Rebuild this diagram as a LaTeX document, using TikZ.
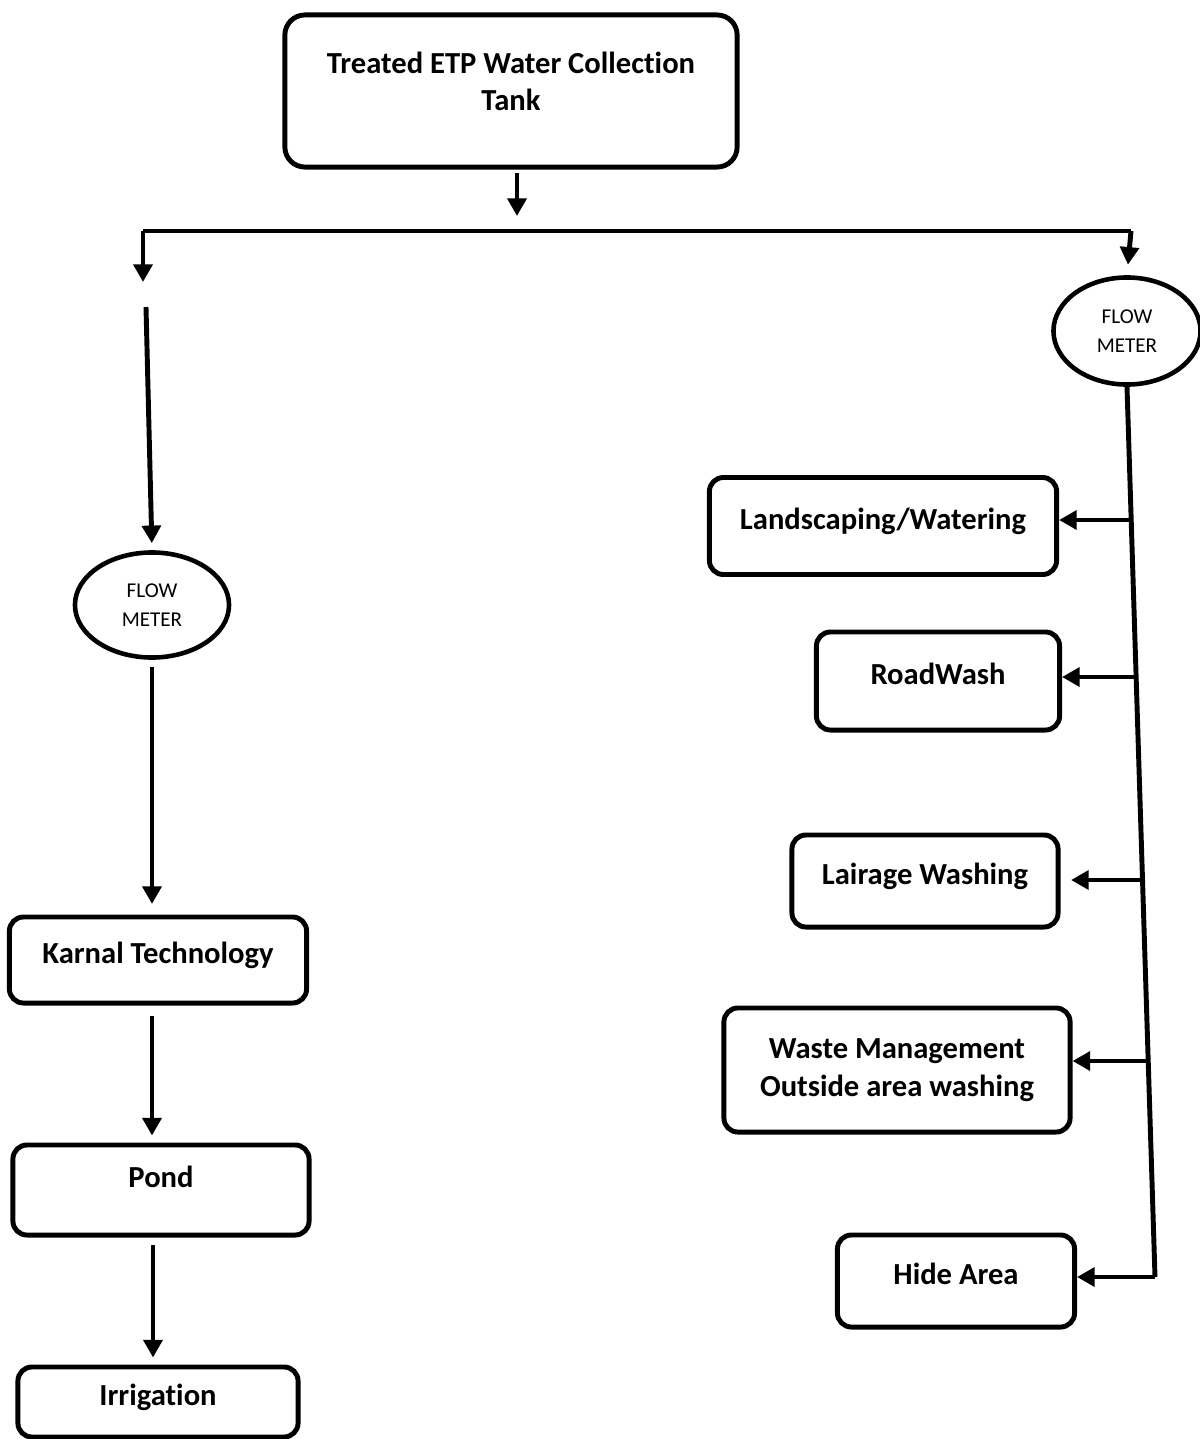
\documentclass[tikz,border=0pt]{standalone}
\usepackage{fontspec}
\setmainfont{Carlito}[Ligatures=NoCommon]
\usetikzlibrary{shapes.geometric,arrows.meta}

\begin{document}
\begin{tikzpicture}[x=0.01cm,y=-0.01cm,
  box/.style={rectangle,draw,line width=1.4pt,rounded corners=0.14cm,align=center,
    font=\bfseries\fontsize{8.7}{11}\selectfont},
  oneline/.style={text height=0.23cm,text depth=0.17cm},
  meter/.style={ellipse,draw,line width=1.3pt,inner sep=0pt,align=center,
    font=\fontsize{6}{8.3}\selectfont},
  flow/.style={line width=1.4pt,-{Triangle[length=5pt,width=5.3pt]},shorten >=2pt,shorten <=2pt},
  pipe/.style={line width=1.4pt}]
\useasboundingbox (0,0) rectangle (1200,1439);

% Tank
\node[box,rounded corners=0.2cm,minimum width=4.52cm,minimum height=1.52cm,
  font=\bfseries\fontsize{8.7}{10.5}\selectfont,text height=0.6cm,text depth=0.22cm]
  (tank) at (511,91) {Treated ETP Water Collection\\Tank};

% Flow meters
\node[meter,minimum width=1.54cm,minimum height=1.05cm] (fmL) at (152,605) {FLOW\\METER};
\node[meter,minimum width=1.47cm,minimum height=1.07cm] (fmR) at (1127,331) {FLOW\\METER};

% Left column
\node[box,oneline,minimum width=2.97cm,minimum height=0.86cm] (karnal) at (158,960) {Karnal Technology};
\node[box,oneline,text height=0.2cm,text depth=0.26cm,minimum width=2.96cm,minimum height=0.90cm] (pond) at (161,1190) {Pond};
\node[box,oneline,minimum width=2.80cm,minimum height=0.70cm] (irrig) at (158,1402) {Irrigation};

% Right column
\node[box,oneline,minimum width=3.47cm,minimum height=0.97cm] (land) at (883,526) {Landscaping/Watering};
\node[box,oneline,minimum width=2.43cm,minimum height=0.98cm] (road) at (938,681) {RoadWash};
\node[box,oneline,minimum width=2.66cm,minimum height=0.92cm] (lair) at (925,881) {Lairage Washing};
\node[box,minimum width=3.46cm,minimum height=1.24cm] (waste) at (897,1070) {Waste Management\\Outside area washing};
\node[box,oneline,minimum width=2.37cm,minimum height=0.92cm] (hide) at (956,1281) {Hide Area};

% Split
\coordinate (tankTip) at (517,216);
\coordinate (busL) at (143,231);
\coordinate (busR) at (1131,231);
\coordinate (dropL) at (143,289);
\coordinate (restartL) at (146,307);
\draw[flow,shorten <=1pt,shorten >=0pt] (tank.south -| tankTip) -- (tankTip);
\draw[pipe] (busL) -- (busR);
\draw[flow,shorten <=0pt] (busL) -- (dropL);
\draw[flow,shorten <=0pt,shorten >=3pt] (busR) -- (fmR.north);

% Left line
\draw[flow,shorten <=0pt] (restartL) -- (fmL.north);
\draw[flow,shorten >=3pt] (fmL.south) -- (fmL.south |- karnal.north);
\draw[flow,shorten <=3pt] ([xshift=-0.06cm]karnal.south) -- ([xshift=-0.06cm]karnal.south |- pond.north);
\draw[flow] ([xshift=-0.08cm]pond.south) -- ([xshift=-0.08cm]pond.south |- irrig.north);

% Right line
\coordinate (trunkEnd) at (1155,1277);
\coordinate (bLand) at (1131,520);
\coordinate (bRoad) at (1136,677);
\coordinate (bLair) at (1142,880);
\coordinate (bWaste) at (1148,1061);
\draw[pipe] (fmR.south) -- (trunkEnd);
\draw[flow,shorten <=0pt,shorten >=0pt] (trunkEnd) -- (trunkEnd -| hide.east);
\draw[flow,shorten <=0pt,shorten >=0pt] (bLand) -- (bLand -| land.east);
\draw[flow,shorten <=0pt,shorten >=0pt] (bRoad) -- (bRoad -| road.east);
\draw[flow,shorten <=0pt,shorten >=3pt] (bLair) -- (bLair -| lair.east);
\draw[flow,shorten <=0pt,shorten >=0pt] (bWaste) -- (bWaste -| waste.east);
\end{tikzpicture}
\end{document}
